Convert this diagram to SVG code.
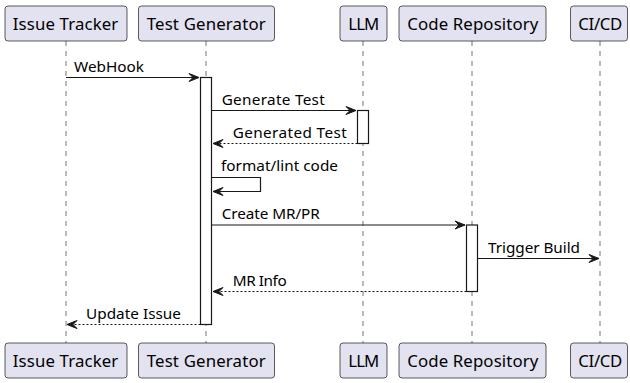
<svg xmlns="http://www.w3.org/2000/svg" width="630" height="383" viewBox="0 0 630 383">
  <style>
    .box { fill: #E2E2F0; stroke: #181818; stroke-width: 0.7; }
    .name { font-family: "Noto Sans", "DejaVu Sans", sans-serif; font-size: 16.8px; fill: #000; }
    .life { stroke: #181818; stroke-width: 0.6; stroke-dasharray: 5 5; fill: none; }
    .act { fill: #FFFFFF; stroke: #181818; stroke-width: 1.2; }
    .msg { stroke: #181818; stroke-width: 1.2; fill: none; }
    .ret { stroke: #181818; stroke-width: 1.2; fill: none; stroke-dasharray: 2 2; }
    .head { fill: #181818; stroke: #181818; stroke-width: 1; }
    .lbl { font-family: "Noto Sans", "DejaVu Sans", sans-serif; font-size: 15.3px; fill: #000; }
  </style>

  <!-- lifelines -->
  <g id="lifelines">
    <line class="life" x1="66" y1="41" x2="66" y2="343"/>
    <line class="life" x1="206" y1="41" x2="206" y2="343"/>
    <line class="life" x1="363" y1="41" x2="363" y2="343"/>
    <line class="life" x1="472" y1="41" x2="472" y2="343"/>
    <line class="life" x1="600" y1="41" x2="600" y2="343"/>
  </g>

  <!-- participants, top and bottom -->
  <g id="issue-tracker">
    <rect class="box" x="5" y="6" width="122" height="35" rx="3"/>
    <text class="name" x="12.7" y="29.5" textLength="105.6" lengthAdjust="spacing">Issue Tracker</text>
    <rect class="box" x="5" y="343" width="122" height="35" rx="3"/>
    <text class="name" x="12.7" y="366.5" textLength="105.6" lengthAdjust="spacing">Issue Tracker</text>
  </g>
  <g id="test-generator">
    <rect class="box" x="138.5" y="6" width="136" height="35" rx="3"/>
    <text class="name" x="146.7" y="29.5" textLength="119" lengthAdjust="spacing">Test Generator</text>
    <rect class="box" x="138.5" y="343" width="136" height="35" rx="3"/>
    <text class="name" x="146.7" y="366.5" textLength="119" lengthAdjust="spacing">Test Generator</text>
  </g>
  <g id="llm">
    <rect class="box" x="340" y="6" width="47" height="35" rx="3"/>
    <text class="name" x="348.3" y="29.5" textLength="31" lengthAdjust="spacing">LLM</text>
    <rect class="box" x="340" y="343" width="47" height="35" rx="3"/>
    <text class="name" x="348.3" y="366.5" textLength="31" lengthAdjust="spacing">LLM</text>
  </g>
  <g id="code-repository">
    <rect class="box" x="399" y="6" width="147" height="35" rx="3"/>
    <text class="name" x="407.3" y="29.5" textLength="131" lengthAdjust="spacing">Code Repository</text>
    <rect class="box" x="399" y="343" width="147" height="35" rx="3"/>
    <text class="name" x="407.3" y="366.5" textLength="131" lengthAdjust="spacing">Code Repository</text>
  </g>
  <g id="ci-cd">
    <rect class="box" x="570.5" y="6" width="57" height="35" rx="3"/>
    <text class="name" x="578.3" y="29.5" textLength="44" lengthAdjust="spacing">CI/CD</text>
    <rect class="box" x="570.5" y="343" width="57" height="35" rx="3"/>
    <text class="name" x="578.3" y="366.5" textLength="44" lengthAdjust="spacing">CI/CD</text>
  </g>

  <!-- activation bars -->
  <g id="activations">
    <rect class="act" x="200.5" y="77.5" width="11" height="247"/>
    <rect class="act" x="357.5" y="110.5" width="11" height="33"/>
    <rect class="act" x="466.5" y="225" width="11" height="66.5"/>
  </g>

  <!-- messages -->
  <g id="connectors">
    <!-- WebHook -->
    <line class="msg" x1="66" y1="77.5" x2="199" y2="77.5"/>
    <polygon class="head" points="189,73.5 199,77.5 189,81.5 193,77.5"/>
    <text class="lbl" x="74" y="72" textLength="70" lengthAdjust="spacing">WebHook</text>

    <!-- Generate Test -->
    <line class="msg" x1="211.5" y1="110.5" x2="356" y2="110.5"/>
    <polygon class="head" points="346,106.5 356,110.5 346,114.5 350,110.5"/>
    <text class="lbl" x="221.7" y="105" textLength="103" lengthAdjust="spacing">Generate Test</text>

    <!-- Generated Test -->
    <line class="ret" x1="357.5" y1="143.5" x2="213" y2="143.5"/>
    <polygon class="head" points="223,139.5 213,143.5 223,147.5 219,143.5"/>
    <text class="lbl" x="232.7" y="138" textLength="114" lengthAdjust="spacing">Generated Test</text>

    <!-- format/lint code -->
    <polyline class="msg" points="211.5,177.5 260.5,177.5 260.5,191.5 213,191.5"/>
    <polygon class="head" points="223,187.5 213,191.5 223,195.5 219,191.5"/>
    <text class="lbl" x="221" y="170.5" textLength="117" lengthAdjust="spacing">format/lint code</text>

    <!-- Create MR/PR -->
    <line class="msg" x1="211.5" y1="225" x2="465" y2="225"/>
    <polygon class="head" points="455,221 465,225 455,229 459,225"/>
    <text class="lbl" x="221.7" y="219" textLength="98" lengthAdjust="spacing">Create MR/PR</text>

    <!-- Trigger Build -->
    <line class="msg" x1="477.5" y1="258.5" x2="599" y2="258.5"/>
    <polygon class="head" points="589,254.5 599,258.5 589,262.5 593,258.5"/>
    <text class="lbl" x="488" y="252.5" textLength="92" lengthAdjust="spacing">Trigger Build</text>

    <!-- MR Info -->
    <line class="ret" x1="466.5" y1="291.5" x2="213" y2="291.5"/>
    <polygon class="head" points="223,287.5 213,291.5 223,295.5 219,291.5"/>
    <text class="lbl" x="232.7" y="285.5" textLength="54" lengthAdjust="spacing">MR Info</text>

    <!-- Update Issue -->
    <line class="ret" x1="200.5" y1="324.5" x2="67" y2="324.5"/>
    <polygon class="head" points="77,320.5 67,324.5 77,328.5 73,324.5"/>
    <text class="lbl" x="86" y="318.5" textLength="95" lengthAdjust="spacing">Update Issue</text>
  </g>
</svg>
